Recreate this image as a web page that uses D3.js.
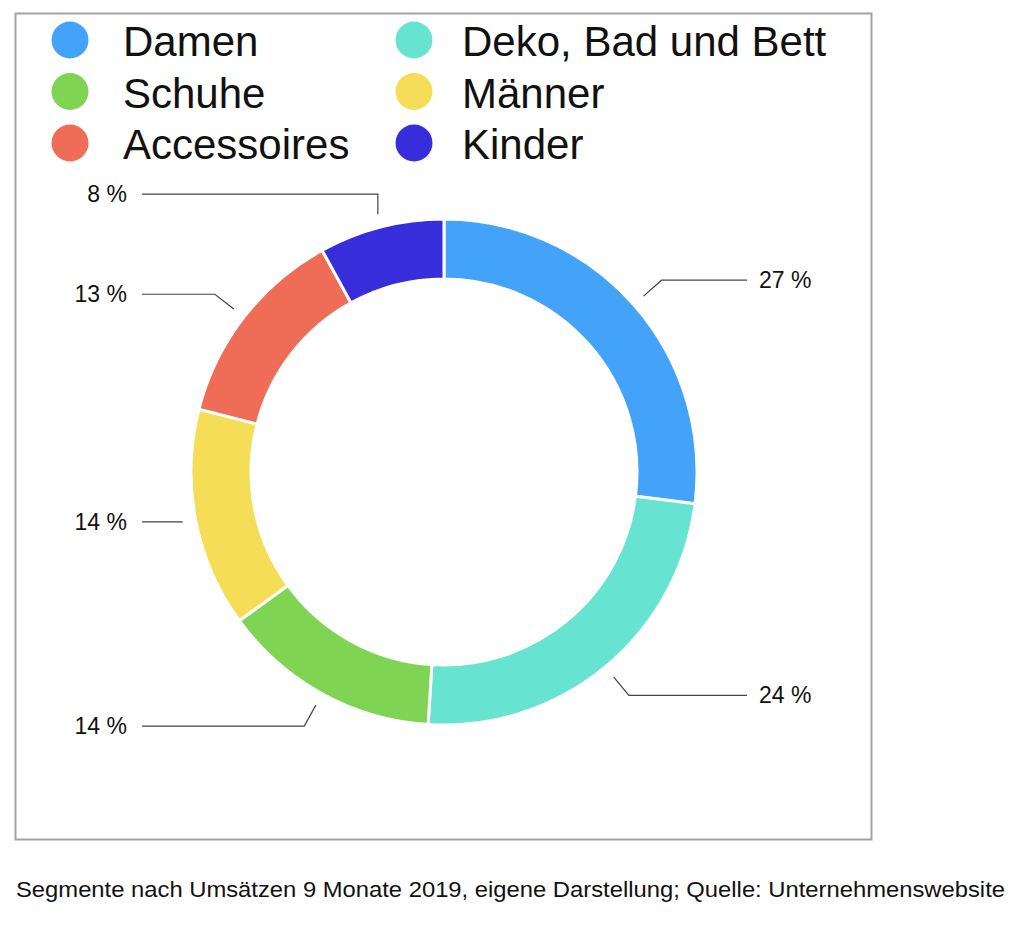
<!DOCTYPE html>
<html>
<head>
<meta charset="utf-8">
<script src="https://cdn.jsdelivr.net/npm/d3@7"></script>
<style>
  body { margin: 0; background: #fff; }
  text { font-family: "Liberation Sans", Arial, Helvetica, sans-serif; fill: #111; }
</style>
</head>
<body>
<div id="vis"></div>
<script>
const FRAME_WIDTH = 1024;
const FRAME_HEIGHT = 925;

// data, clockwise from 12 o'clock
const segments = ["Damen", "Deko, Bad und Bett", "Schuhe", "Männer", "Accessoires", "Kinder"];
const shares = [27, 24, 14, 14, 13, 8];
const colors = ["#43a3f8", "#67e3d2", "#80d454", "#f6dd58", "#ef6d57", "#382ddb"];
// legend order (two columns, as in the picture)
const legendOrder = ["Damen", "Schuhe", "Accessoires", "Deko, Bad und Bett", "Männer", "Kinder"];
const caption = "Segmente nach Umsätzen 9 Monate 2019, eigene Darstellung; Quelle: Unternehmenswebsite";

const CX = 444, CY = 472;
const R_OUT = 253, R_IN = 193;

const svg = d3.select("#vis")
  .append("svg")
    .attr("width", FRAME_WIDTH)
    .attr("height", FRAME_HEIGHT);

// frame around the chart
svg.append("rect")
    .attr("x", 15.5).attr("y", 13.5)
    .attr("width", 856).attr("height", 826)
    .attr("fill", "none")
    .attr("stroke", "#a3a3a3")
    .attr("stroke-width", 2);

const color = d3.scaleOrdinal().domain(segments).range(colors);

// legend: circle x / text x per column
const colCircle = [70, 414];
const colText = [123, 462];
const legend = svg.append("g");
legendOrder.forEach((name, i) => {
  const col = Math.floor(i / 3), row = i % 3;
  const y = 40 + row * 51.5;
  legend.append("circle")
      .attr("cx", colCircle[col]).attr("cy", y)
      .attr("r", 18.5)
      .attr("fill", color(name));
  legend.append("text")
      .attr("x", colText[col]).attr("y", y + 16)
      .attr("font-size", "42px")
      .text(name);
});

// donut
const pie = d3.pie().sort(null).value(d => d);
const arcs = pie(shares);
const arc = d3.arc().innerRadius(R_IN).outerRadius(R_OUT);

const chart = svg.append("g").attr("transform", "translate(" + CX + "," + CY + ")");

chart.selectAll("path")
  .data(arcs)
  .enter()
  .append("path")
    .attr("d", arc)
    .attr("fill", (d, i) => color(segments[i]))
    .attr("stroke", "#fff")
    .attr("stroke-width", 3);

// leader lines + labels
const startArc = d3.arc().innerRadius(266).outerRadius(266);
const elbowArc = d3.arc().innerRadius(290).outerRadius(290);

arcs.forEach((d) => {
  const p0 = startArc.centroid(d);
  let p1 = elbowArc.centroid(d);
  const right = (d.startAngle + d.endAngle) / 2 < Math.PI;
  const xEnd = right ? 747 - CX : 142 - CX;
  // almost horizontal -> no elbow; almost vertical -> straight up
  if (Math.abs(p1[1] - p0[1]) < 6) p1 = p0;
  else if (Math.abs(p1[0] - p0[0]) < 8) p1 = [p0[0], p1[1] + 3];
  const pts = [p0, p1, [xEnd, p1[1]]];

  chart.append("path")
      .attr("d", d3.line()(pts))
      .attr("fill", "none")
      .attr("stroke", "#444")
      .attr("stroke-width", 1.2);

  chart.append("text")
      .attr("x", right ? xEnd + 12 : xEnd - 15)
      .attr("y", p1[1] + 8)
      .attr("text-anchor", right ? "start" : "end")
      .attr("font-size", "23px")
      .text(d.data + " %");
});

// caption
svg.append("text")
    .attr("x", 16).attr("y", 897)
    .attr("font-size", "22px")
    .attr("textLength", 989)
    .attr("lengthAdjust", "spacingAndGlyphs")
    .text(caption);
</script>
</body>
</html>
